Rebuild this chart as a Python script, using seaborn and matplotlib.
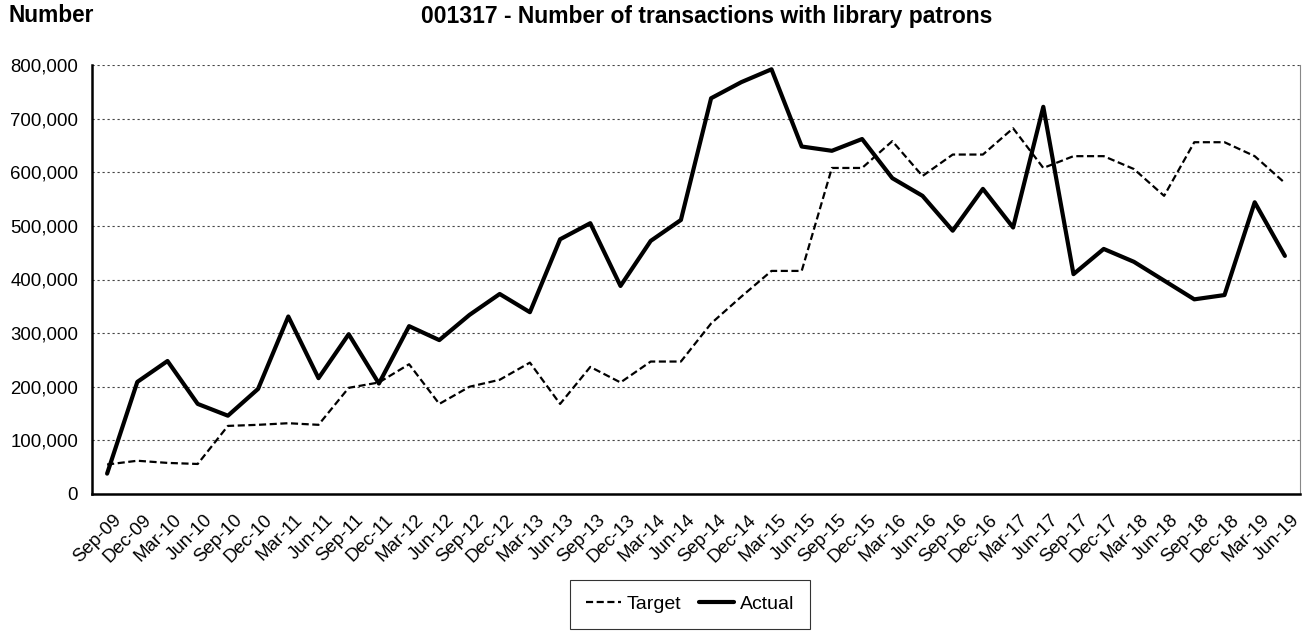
import numpy as np
import pandas as pd
import seaborn as sns
import matplotlib.pyplot as plt
import matplotlib.transforms as mtransforms
from matplotlib.ticker import FuncFormatter

# Quarterly figures
quarters = ["Sep-09", "Dec-09", "Mar-10", "Jun-10", "Sep-10", "Dec-10", "Mar-11", "Jun-11",
            "Sep-11", "Dec-11", "Mar-12", "Jun-12", "Sep-12", "Dec-12", "Mar-13", "Jun-13",
            "Sep-13", "Dec-13", "Mar-14", "Jun-14", "Sep-14", "Dec-14", "Mar-15", "Jun-15",
            "Sep-15", "Dec-15", "Mar-16", "Jun-16", "Sep-16", "Dec-16", "Mar-17", "Jun-17",
            "Sep-17", "Dec-17", "Mar-18", "Jun-18", "Sep-18", "Dec-18", "Mar-19", "Jun-19"]

target = [55000, 62000, 58000, 56000, 127000, 129000, 132000, 129000,
          198000, 208000, 242000, 168000, 200000, 213000, 245000, 168000,
          237000, 208000, 247000, 247000, 318000, 368000, 416000, 416000,
          608000, 608000, 658000, 593000, 633000, 633000, 682000, 608000,
          630000, 630000, 606000, 556000, 656000, 656000, 630000, 580000]

actual = [38000, 209000, 248000, 168000, 146000, 196000, 331000, 216000,
          298000, 206000, 313000, 287000, 334000, 373000, 339000, 475000,
          505000, 388000, 472000, 511000, 738000, 768000, 792000, 648000,
          640000, 662000, 589000, 556000, 491000, 569000, 497000, 722000,
          410000, 457000, 433000, 398000, 363000, 371000, 544000, 444000]

y_ticks = [0, 100000, 200000, 300000, 400000, 500000, 600000, 700000, 800000]

df = pd.DataFrame({"Quarter": quarters, "Target": target, "Actual": actual})
df["pos"] = np.arange(len(df))

sns.set_style("white")
plt.rcParams['font.family'] = ['Liberation Sans', 'DejaVu Sans']
plt.rcParams['text.color'] = 'black'
plt.rcParams['xtick.color'] = 'black'
plt.rcParams['ytick.color'] = 'black'

W, H = 1309, 632
fig = plt.figure(figsize=(W / 100, H / 100), dpi=100)
ax = fig.add_axes([92 / W, 1 - 494 / H, (1300 - 92) / W, (494 - 65) / H])

sns.lineplot(data=df, x="pos", y="Target", ax=ax, color="black", linewidth=1.6,
             linestyle=(0, (3.2, 1.6)), label="Target")
sns.lineplot(data=df, x="pos", y="Actual", ax=ax, color="black", linewidth=3.0,
             label="Actual")

ax.set_xlim(-0.5, len(quarters) - 0.5)
ax.set_ylim(0, 800000)
ax.set_yticks(y_ticks)
ax.yaxis.set_major_formatter(FuncFormatter(lambda v, p: f"{int(v):,}"))
ax.set_xticks(df["pos"])
ax.set_xticklabels(quarters, rotation=45, ha="right", rotation_mode="anchor")
ax.set_xlabel("")
ax.set_ylabel("")

ax.grid(axis="y", color="#444444", linestyle=(0, (2, 2.5)), linewidth=0.8)
ax.grid(axis="x", visible=False)
ax.tick_params(axis="both", length=0, labelsize=13.4)
ax.tick_params(axis="y", pad=10)
ax.tick_params(axis="x", pad=6)

# push the rotated month labels a bit right and down, like the original
shift = mtransforms.ScaledTranslation(0.06, -0.09, fig.dpi_scale_trans)
for lbl in ax.get_xticklabels():
    lbl.set_transform(lbl.get_transform() + shift)

for side in ["left", "bottom"]:
    ax.spines[side].set_color("black")
    ax.spines[side].set_linewidth(1.8)
ax.spines["top"].set_visible(False)
ax.spines["right"].set_color("#888888")
ax.spines["right"].set_linewidth(0.8)

fig.text(8 / W, 1 - 16 / H, "Number", fontsize=16.3, fontweight="bold", va="center", ha="left")
fig.text(707 / W, 1 - 16 / H, "001317 - Number of transactions with library patrons",
         fontsize=16.5, fontweight="bold", va="center", ha="center")

handles, labels = ax.get_legend_handles_labels()
ax.get_legend().remove()
leg = fig.legend(handles, labels, loc="upper center", bbox_to_anchor=(690 / W, 1 - 580 / H),
                 ncol=2, fontsize=14, frameon=True, fancybox=False, edgecolor="black",
                 handlelength=1.8, handletextpad=0.3, columnspacing=0.9, borderpad=0.8,
                 borderaxespad=0)
leg.get_frame().set_linewidth(0.8)

fig.savefig("out.png", dpi=100)
